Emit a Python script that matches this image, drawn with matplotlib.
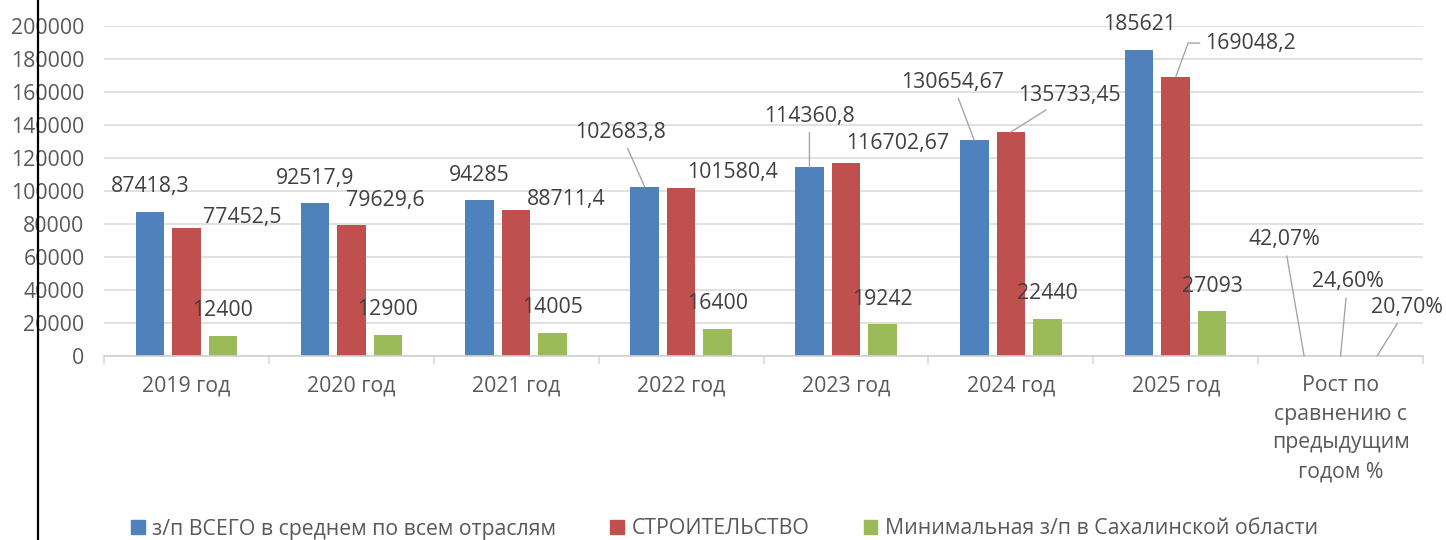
import matplotlib
matplotlib.use("Agg")
import matplotlib.pyplot as plt
import numpy as np
from matplotlib.lines import Line2D
from matplotlib.patches import Patch

CATEGORIES = [
    "2019 год", "2020 год", "2021 год", "2022 год", "2023 год",
    "2024 год", "2025 год", "Рост по\nсравнению с\nпредыдущим\nгодом %",
]
SERIES_NAMES = [
    "з/п ВСЕГО в среднем по всем отраслям",
    "СТРОИТЕЛЬСТВО",
    "Минимальная з/п в Сахалинской области",
]
TOTAL = [87418.3, 92517.9, 94285, 102683.8, 114360.8, 130654.67, 185621, 42.07]
CONSTRUCTION = [77452.5, 79629.6, 88711.4, 101580.4, 116702.67, 135733.45, 169048.2, 24.60]
MINIMUM = [12400, 12900, 14005, 16400, 19242, 22440, 27093, 20.70]
PERCENT_CATEGORY = 7

COLORS = ["#4F81BD", "#C0504D", "#9BBB59"]
TEXT = "#404040"
AXIS_TEXT = "#595959"
GRID = "#D9D9D9"
LEADER = "#A6A6A6"

# label placement: (series, category) -> (dx px, dy px, leader)
DEFAULT_OFFSET = (0, 25, None)
LABEL_OFFSETS = {
    (1, 0): (56, 11, None),
    (1, 1): (34, 24, None),
    (1, 2): (50, 10, None),
    (0, 3): (-24, 54, "line"),
    (1, 3): (51, 16, None),
    (0, 4): (0, 51, "line"),
    (1, 4): (52, 20, None),
    (0, 5): (-22, 58, "line"),
    (1, 5): (59, 37, "line"),
    (1, 6): (75, 34, "elbow"),
    (0, 7): (-20, 116, "line"),
    (1, 7): (7, 74, "line"),
    (2, 7): (30, 48, "line"),
}


def fmt(value, cat):
    if cat == PERCENT_CATEGORY:
        return f"{value:.2f}%".replace(".", ",")
    s = f"{value:.2f}".rstrip("0").rstrip(".")
    return s.replace(".", ",")


plt.rcParams["font.family"] = ["Open Sans", "DejaVu Sans"]

fig = plt.figure(figsize=(14.46, 5.4), dpi=100)
ax = fig.add_axes([104 / 1446, 1 - 356 / 540, (1423 - 104) / 1446, 330 / 540])

x = np.arange(len(CATEGORIES))
width = 0.173
shift = 0.2213
series = [TOTAL, CONSTRUCTION, MINIMUM]

for s, values in enumerate(series):
    xs = x + (s - 1) * shift
    ax.bar(xs, values, width=width, color=COLORS[s], zorder=2, label=SERIES_NAMES[s])
    for c, (xi, v) in enumerate(zip(xs, values)):
        dx, dy, leader = LABEL_OFFSETS.get((s, c), DEFAULT_OFFSET)
        arrow = None
        if leader == "line":
            arrow = dict(arrowstyle="-", color=LEADER, lw=1.0, shrinkA=2, shrinkB=0)
        elif leader == "elbow":
            arrow = dict(arrowstyle="-", color=LEADER, lw=1.0, shrinkA=2, shrinkB=0,
                         relpos=(0, 0.5), connectionstyle="angle,angleA=0,angleB=70,rad=0")
        ax.annotate(fmt(v, c), xy=(xi, v), xytext=(dx, dy), textcoords="offset pixels",
                    ha="center", va="center", fontsize=15.3, color=TEXT,
                    arrowprops=arrow, zorder=4)

ax.set_xlim(-0.5, len(CATEGORIES) - 0.5)
ax.set_ylim(0, 200000)
ax.set_yticks(np.arange(0, 200001, 20000))
ax.set_yticklabels([str(v) for v in range(0, 200001, 20000)])
ax.yaxis.grid(True, color=GRID, lw=1.1, zorder=0)
ax.set_axisbelow(True)

ax.set_xticks(x)
ax.set_xticklabels(CATEGORIES, linespacing=1.47)
ax.set_xticks(np.arange(-0.5, len(CATEGORIES)), minor=True)
ax.tick_params(axis="x", which="major", length=0, pad=14, labelsize=15.3, labelcolor=AXIS_TEXT)
ax.tick_params(axis="x", which="minor", length=6, width=1.1, color=GRID)
ax.tick_params(axis="y", length=0, pad=14, labelsize=15.3, labelcolor=AXIS_TEXT)

for side in ["top", "right", "left"]:
    ax.spines[side].set_visible(False)
ax.spines["bottom"].set_color("#D0D0D0")
ax.spines["bottom"].set_linewidth(1.2)

fig.add_artist(Line2D([37.5 / 1446] * 2, [0, 1], transform=fig.transFigure, color="black", lw=1.6))

handles = [Patch(color=COLORS[i], label=SERIES_NAMES[i]) for i in range(3)]
fig.legend(handles=handles, loc="center", bbox_to_anchor=(0.501, 1 - 529 / 540), ncol=3,
           frameon=False, fontsize=15.3, handlelength=0.65, handleheight=0.65,
           handletextpad=0.35, columnspacing=2.55, labelcolor=AXIS_TEXT)

fig.savefig("out.png", dpi=100)
